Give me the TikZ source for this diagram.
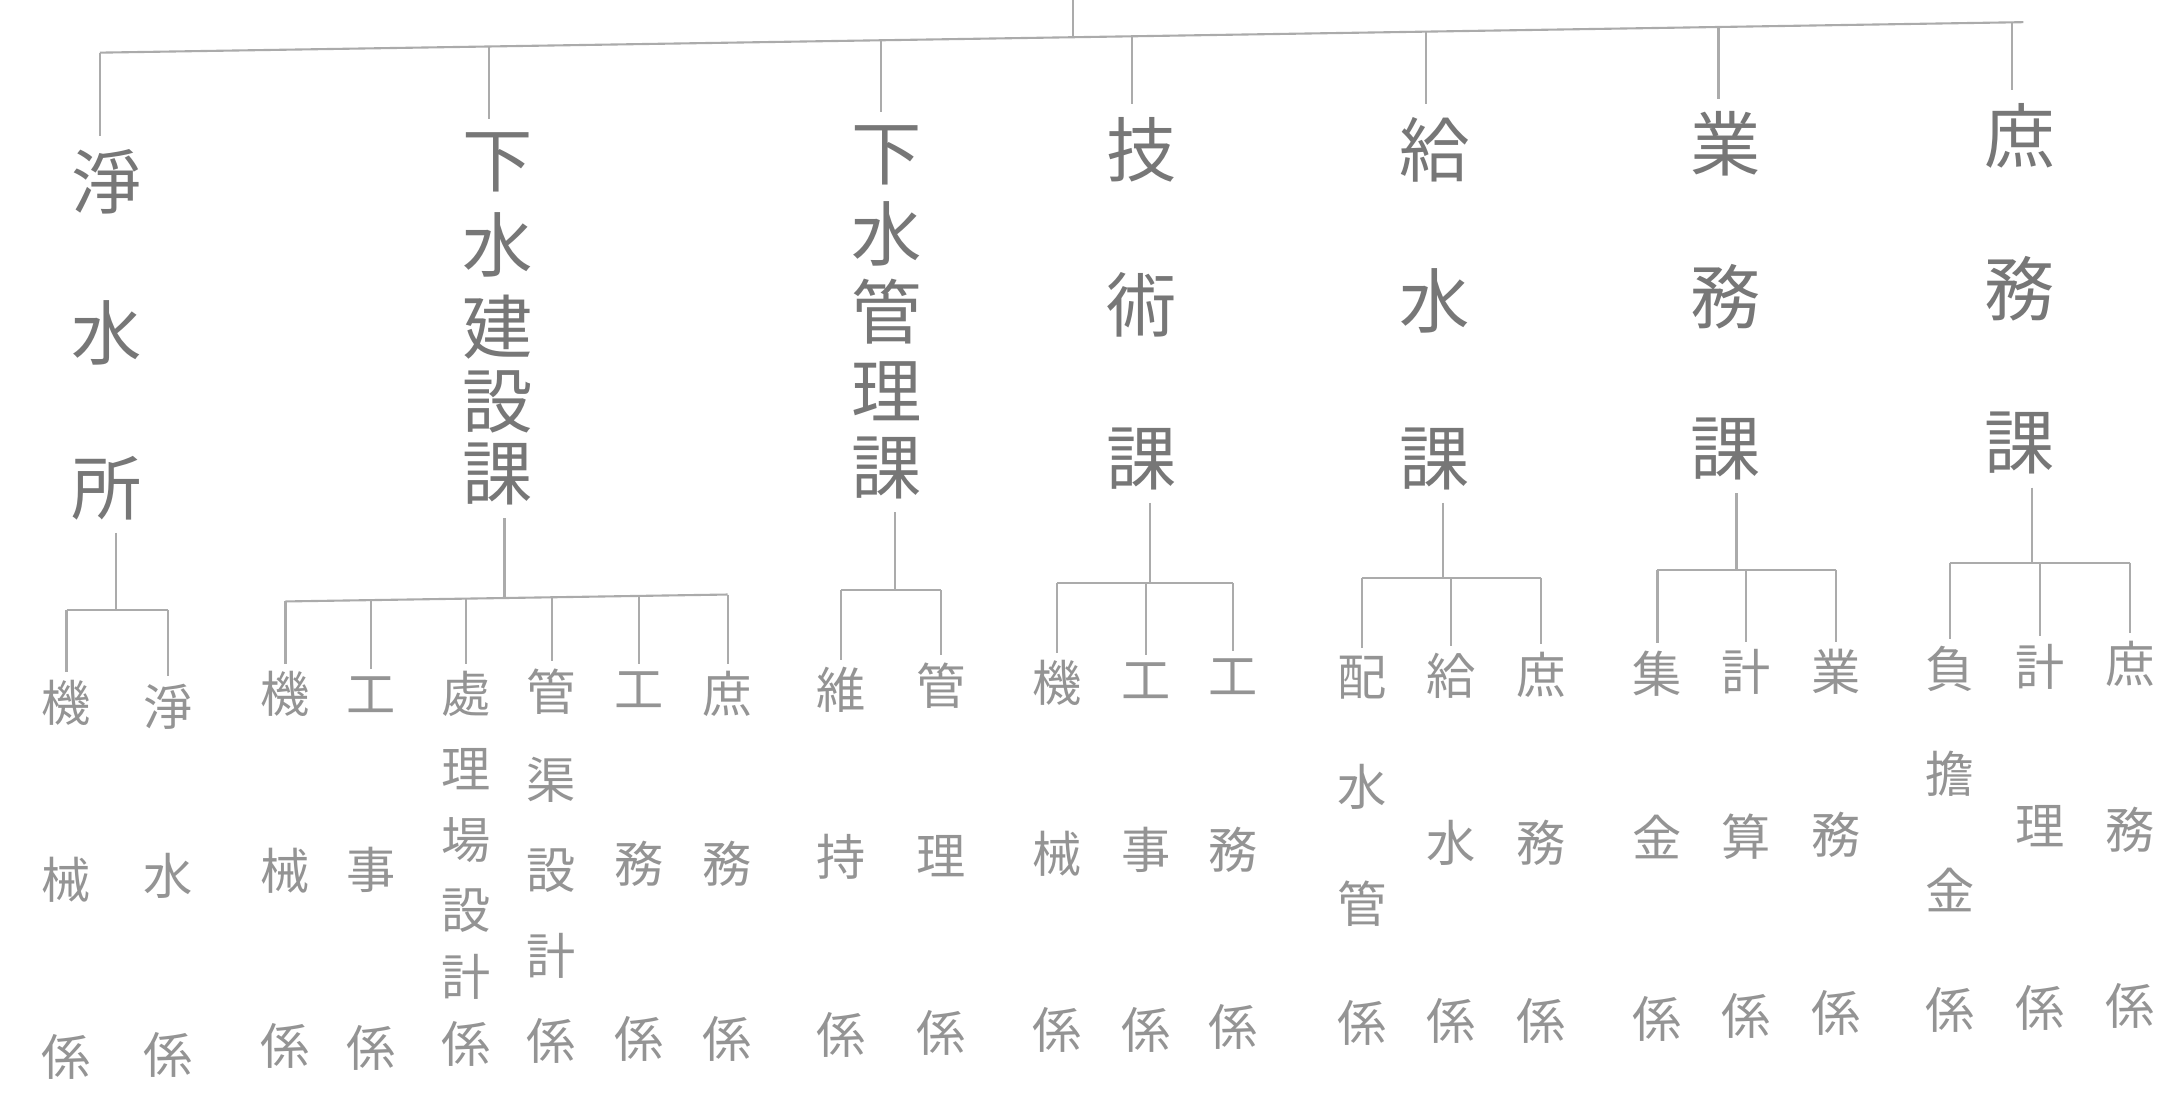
\documentclass[tikz,border=0pt]{standalone}
\usepackage{fontspec}
\newfontfamily\cjk{Noto Sans CJK JP}
\definecolor{deptgray}{HTML}{777777}
\definecolor{sectgray}{HTML}{949494}
\definecolor{linegray}{HTML}{ABABAB}
\newcommand\vstack[4]{% name, style, x, list y/char
  \foreach \yy/\cc [count=\ii] in {#4}{\node[#2] (#1-\ii) at (#3,\yy) {\cc};}}
\begin{document}
\begin{tikzpicture}[x=0.01386cm,y=-0.01386cm,
  dept/.style={font=\cjk\fontsize{20pt}{20pt}\selectfont,text=deptgray,inner sep=0.5pt},
  sect/.style={font=\cjk\fontsize{14pt}{14pt}\selectfont,text=sectgray,inner sep=0.5pt},
  link/.style={draw=linegray,line width=0.6pt},
  downlink/.style={link,shorten >=3pt},
  subdown/.style={link,shorten >=1.5pt},
  uplink/.style={link,shorten <=3pt}]
\fill[white] (0,0) rectangle (1568,790);
\useasboundingbox (0,0) rectangle (1568,790);

% ---------- departments ----------
\vstack{d1}{dept}{77}{131/淨,240/水,352/所}
\vstack{d2}{dept}{359}{117/下,177/水,236/建,290/設,342/課}
\vstack{d3}{dept}{640}{112/下,169/水,225/管,282/理,338/課}
\vstack{d4}{dept}{824}{108/技,220/術,331/課}
\vstack{d5}{dept}{1035}{108/給,217/水,331/課}
\vstack{d6}{dept}{1245}{104/業,214/務,324/課}
\vstack{d7}{dept}{1457}{98/庶,208/務,320/課}

% ---------- top bus ----------
\coordinate (root) at (774,0);
\coordinate (rootj) at (774,27);
\coordinate (busL) at (72,38);
\coordinate (busR) at (1460,16);
\coordinate (t1) at (72,38);
\coordinate (t2) at (353,33.5);
\coordinate (t3) at (636,29);
\coordinate (t4) at (817,26);
\coordinate (t5) at (1029,23);
\coordinate (t6) at (1240,19.5);
\coordinate (t7) at (1452,16.2);
\draw[link] (busL) -- (busR);
\draw[link] (root) -- (rootj);
\foreach \i in {1,...,7} \draw[downlink] (t\i) -- (t\i |- d\i-1.north);

% ---------- sections ----------
\vstack{a1}{sect}{48}{507/機,635/械,763/係}
\vstack{a2}{sect}{121}{510/淨,632/水,761/係}

\vstack{b1}{sect}{206}{501/機,628/械,755/係}
\vstack{b2}{sect}{268}{501/工,628/事,756/係}
\vstack{b3}{sect}{336}{501/處,555/理,606/場,657/設,705/計,753/係}
\vstack{b4}{sect}{398}{499/管,563/渠,628/設,690/計,751/係}
\vstack{b5}{sect}{461}{498/工,623/務,750/係}
\vstack{b6}{sect}{525}{501/庶,623/務,750/係}

\vstack{c1}{sect}{607}{498/維,618/持,747/係}
\vstack{c2}{sect}{679}{495/管,618/理,745/係}

\vstack{e1}{sect}{763}{493/機,616/械,743/係}
\vstack{e2}{sect}{827}{491/工,613/事,743/係}
\vstack{e3}{sect}{890}{488/工,613/務,741/係}

\vstack{f1}{sect}{983}{489/配,568/水,652/管,738/係}
\vstack{f2}{sect}{1047}{488/給,608/水,737/係}
\vstack{f3}{sect}{1112}{487/庶,608/務,737/係}

\vstack{g1}{sect}{1196}{486/集,604/金,735/係}
\vstack{g2}{sect}{1260}{485/計,604/算,733/係}
\vstack{g3}{sect}{1325}{485/業,602/務,731/係}

\vstack{h1}{sect}{1407}{483/負,558/擔,642/金,729/係}
\vstack{h2}{sect}{1472}{481/計,596/理,727/係}
\vstack{h3}{sect}{1537}{479/庶,599/務,726/係}

% ---------- sub buses: junctions ----------
\coordinate (ja1) at (48,440);   \coordinate (ja2) at (121,440);
\coordinate (jb1) at (206,434);  \coordinate (jb2) at (268,433);
\coordinate (jb3) at (336,432);  \coordinate (jb4) at (398,431);
\coordinate (jb5) at (461,430);  \coordinate (jb6) at (525,429);
\coordinate (jc1) at (607,426);  \coordinate (jc2) at (679,426);
\coordinate (je1) at (763,421);  \coordinate (je2) at (827,421);  \coordinate (je3) at (890,421);
\coordinate (jf1) at (983,417);  \coordinate (jf2) at (1047,417); \coordinate (jf3) at (1112,417);
\coordinate (jg1) at (1196,411); \coordinate (jg2) at (1260,411); \coordinate (jg3) at (1325,411);
\coordinate (jh1) at (1407,406); \coordinate (jh2) at (1472,406); \coordinate (jh3) at (1537,406);

% parent junctions
\coordinate (p1) at (84,440);
\coordinate (p2) at (364,431.5);
\coordinate (p3) at (646,426);
\coordinate (p4) at (830,421);
\coordinate (p5) at (1041,417);
\coordinate (p6) at (1253,411);
\coordinate (p7) at (1466,406);

\draw[uplink] (p1 |- d1-3.south) -- (p1);
\draw[uplink] (p2 |- d2-5.south) -- (p2);
\draw[uplink] (p3 |- d3-5.south) -- (p3);
\draw[uplink] (p4 |- d4-3.south) -- (p4);
\draw[uplink] (p5 |- d5-3.south) -- (p5);
\draw[uplink] (p6 |- d6-3.south) -- (p6);
\draw[uplink] (p7 |- d7-3.south) -- (p7);

\draw[link] (ja1) -- (ja2);
\draw[link] (jb1) -- (jb6);
\draw[link] (jc1) -- (jc2);
\draw[link] (je1) -- (je3);
\draw[link] (jf1) -- (jf3);
\draw[link] (jg1) -- (jg3);
\draw[link] (jh1) -- (jh3);

\foreach \n in {a1,a2,b1,b2,b3,b4,b5,b6,c1,c2,e1,e2,e3,f1,f2,f3,g1,g2,g3,h1,h2,h3}
  \draw[subdown] (j\n) -- (\n-1.north);
\end{tikzpicture}
\end{document}
